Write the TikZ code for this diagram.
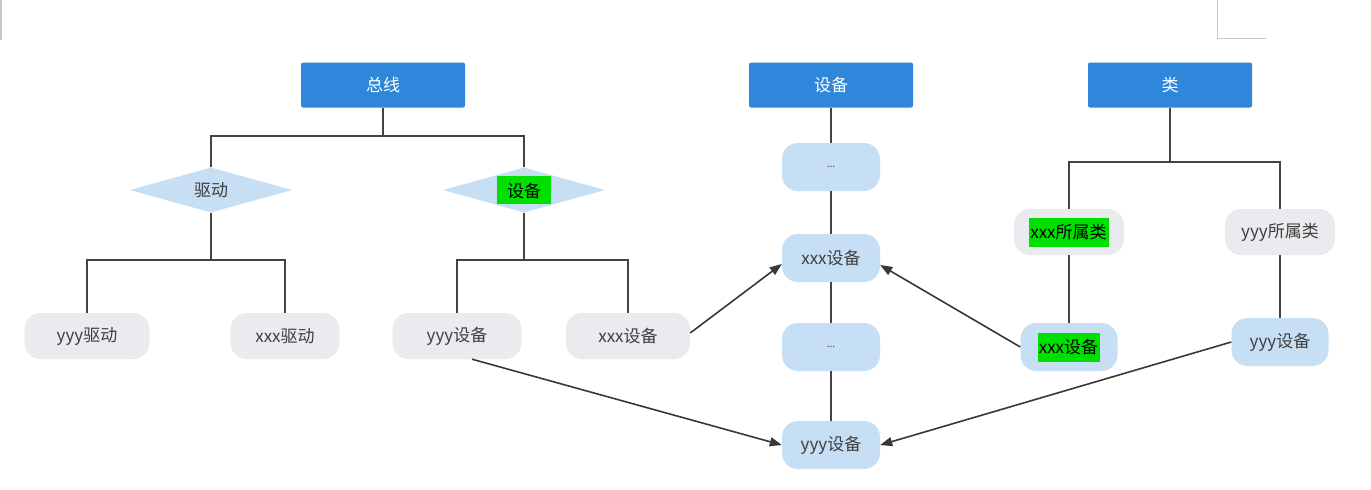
\documentclass[tikz,border=0pt]{standalone}
\usepackage{fontspec}
\setmainfont{Noto Sans CJK SC}
\usetikzlibrary{shapes.geometric,arrows.meta}
\definecolor{topblue}{HTML}{2E87DB}
\definecolor{lightblue}{HTML}{C6DFF5}
\definecolor{pillgray}{HTML}{E9EBEE}
\definecolor{txt}{HTML}{3F3F3F}
\definecolor{linegray}{HTML}{444444}
\definecolor{arrowgray}{HTML}{383838}
\definecolor{hlgreen}{HTML}{00E000}
\newcommand{\hltight}[1]{{\setlength{\fboxsep}{0pt}\colorbox{hlgreen}{\rule[-8pt]{0pt}{29pt}\hspace{1pt}\textcolor{black}{#1}\hspace{2pt}}}}
\newcommand{\hltwide}[1]{{\setlength{\fboxsep}{0pt}\colorbox{hlgreen}{\rule[-7pt]{0pt}{28pt}\hspace{10pt}\textcolor{black}{#1}\hspace{10pt}}}}
\begin{document}
\begin{tikzpicture}[x=1pt,y=-1pt,
  font=\fontsize{17}{19}\selectfont,
  topbox/.style={rectangle, fill=topblue, text=white, minimum width=164pt, minimum height=45pt, rounded corners=2pt, inner sep=0pt},
  dia/.style={diamond, fill=lightblue, text=txt, minimum width=162pt, minimum height=45pt, inner sep=0pt, aspect=3.6},
  graypill/.style={rectangle, rounded corners=16pt, fill=pillgray, text=txt, minimum height=46pt, inner sep=0pt},
  bluepill/.style={rectangle, rounded corners=16pt, fill=lightblue, text=txt, minimum height=48pt, minimum width=98pt, inner sep=0pt},
  tree/.style={draw=linegray, line width=1.8pt},
  arr/.style={draw=arrowgray, line width=1.6pt, -{Triangle[length=12pt,width=9pt]}}]
\fill[white] (0,0) rectangle (1371,490);
\useasboundingbox (0,0) rectangle (1371,490);
% faint screenshot marks
\draw[gray!45, line width=1pt] (1217,0) -- (1217,38) -- (1266,38);
\draw[gray!45, line width=2pt] (1,0) -- (1,40);

% top boxes
\node[topbox] (bus) at (383,85) {总线};
\node[topbox] (dev) at (831,85) {设备};
\node[topbox] (cls) at (1170,85) {类};

% bus tree
\node[dia] (drv) at (211,190) {驱动};
\node[dia] (devd) at (524,190) {\hltwide{设备}};
\node[graypill, minimum width=125pt] (yd) at (87,336) {yyy驱动};
\node[graypill, minimum width=109pt] (xd) at (285,336) {xxx驱动};
\node[graypill, minimum width=129pt] (yg) at (457,336) {yyy设备};
\node[graypill, minimum width=124pt] (xg) at (628,336) {xxx设备};

% device column
\node[bluepill] (d1) at (831,167) {\fontsize{10}{10}\selectfont ...};
\node[bluepill] (bx) at (831,258) {xxx设备};
\node[bluepill] (d2) at (831,347) {\fontsize{10}{10}\selectfont ...};
\node[bluepill] (by) at (831,445) {yyy设备};

% class tree
\node[graypill, minimum width=110pt] (xc) at (1069,232) {\hltight{xxx所属类}};
\node[graypill, minimum width=110pt] (yc) at (1280,232) {yyy所属类};
\node[bluepill, minimum width=97pt] (xb) at (1069,347) {\hltight{xxx设备}};
\node[bluepill, minimum width=97pt] (yb) at (1280,342) {yyy设备};

\coordinate (bj) at (383,136);
\coordinate (dj) at (211,260);
\coordinate (cj) at (1170,162);

\draw[tree] (bus.south) -- (bj);
\draw[tree] (drv.north) -- (drv.north |- bj) -- (devd.north |- bj) -- (devd.north);
\draw[tree] (drv.south) -- (dj);
\draw[tree] (yd.north) -- (yd.north |- dj) -- (xd.north |- dj) -- (xd.north);
\draw[tree] (devd.south) -- (devd.south |- dj);
\draw[tree] (yg.north) -- (yg.north |- dj) -- (xg.north |- dj) -- (xg.north);

\draw[tree] (dev.south) -- (d1.north);
\draw[tree] (d1.south) -- (bx.north);
\draw[tree] (bx.south) -- (d2.north);
\draw[tree] (d2.south) -- (by.north);

\draw[tree] (cls.south) -- (cj);
\draw[tree] (xc.north) -- (xc.north |- cj) -- (yc.north |- cj) -- (yc.north);
\draw[tree] (xc.south) -- (xb.north);
\draw[tree] (yc.south) -- (yb.north);

% arrows
\draw[arr] ([yshift=3pt]xg.east) -- ([yshift=-6pt]bx.west);
\draw[arr] (xb.west) -- ([yshift=-7pt]bx.east);
\draw[arr] ([xshift=15pt]yg.south) -- (by.west);
\draw[arr] (yb.west) -- (by.east);
\end{tikzpicture}
\end{document}
